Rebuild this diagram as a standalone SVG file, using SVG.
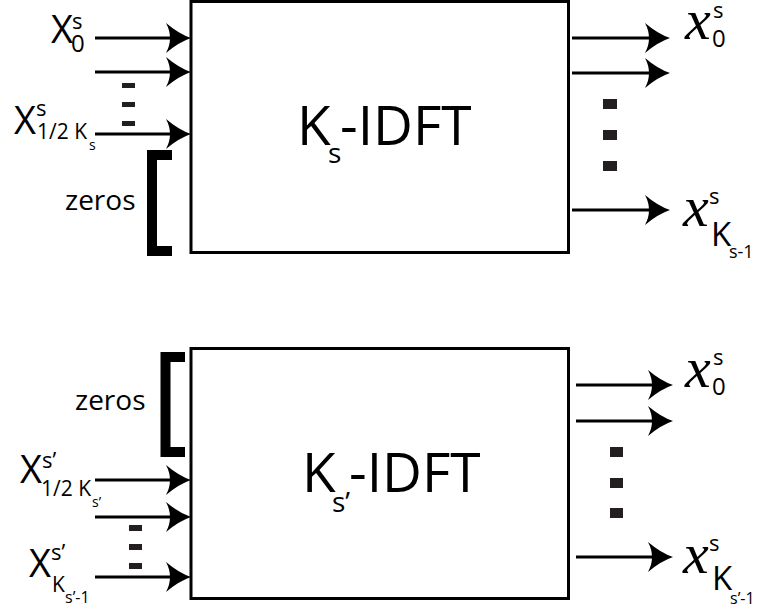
<svg xmlns="http://www.w3.org/2000/svg" xmlns:xlink="http://www.w3.org/1999/xlink" width="760" height="610" viewBox="0 0 760 610">
<style>
text{font-family:"Open Sans","Noto Sans","Liberation Sans",sans-serif;fill:#000}
.box{fill:#fff;stroke:#000;stroke-width:3}
.ln{stroke:#000;stroke-width:3;fill:none}
.br{stroke:#000;stroke-width:10;fill:none;stroke-linejoin:miter}
.dot{fill:#231f20}
.vx{font-family:"Liberation Serif","DejaVu Serif",serif;font-style:italic}
</style>
<defs>
<path id="ah" d="M0,0 Q-12,-4 -25,-15 Q-17,0 -25,15 Q-12,4 0,0 Z" fill="#000"/>
</defs>

<g id="block1">
<rect class="box" x="191" y="1.5" width="377.5" height="251"/>
<text x="297" y="145" font-size="55">K</text>
<text x="328" y="163" font-size="28">s</text>
<text x="340" y="145" font-size="55">-IDFT</text>
</g>

<g id="block2">
<rect class="box" x="191" y="348.5" width="377.5" height="250"/>
<text x="302" y="492" font-size="55">K</text>
<text x="332" y="512" font-size="28">s’</text>
<text x="349" y="492" font-size="55">-IDFT</text>
</g>

<g id="connectors">
<line class="ln" x1="95" y1="38" x2="182" y2="38"/>
<line class="ln" x1="95" y1="72" x2="182" y2="72"/>
<line class="ln" x1="95" y1="134" x2="182" y2="134"/>
<use xlink:href="#ah" x="191" y="38"/>
<use xlink:href="#ah" x="191" y="72"/>
<use xlink:href="#ah" x="191" y="134"/>
<line class="ln" x1="572" y1="38" x2="661" y2="38"/>
<line class="ln" x1="572" y1="73" x2="661" y2="73"/>
<line class="ln" x1="572" y1="210" x2="661" y2="210"/>
<use xlink:href="#ah" x="670" y="38"/>
<use xlink:href="#ah" x="670" y="73"/>
<use xlink:href="#ah" x="670" y="210"/>
<line class="ln" x1="95" y1="480" x2="182" y2="480"/>
<line class="ln" x1="95" y1="517" x2="182" y2="517"/>
<line class="ln" x1="95" y1="577" x2="182" y2="577"/>
<use xlink:href="#ah" x="191" y="480"/>
<use xlink:href="#ah" x="191" y="517"/>
<use xlink:href="#ah" x="191" y="577"/>
<line class="ln" x1="576" y1="385" x2="664" y2="385"/>
<line class="ln" x1="576" y1="421" x2="664" y2="421"/>
<line class="ln" x1="576" y1="557" x2="664" y2="557"/>
<use xlink:href="#ah" x="673" y="385"/>
<use xlink:href="#ah" x="673" y="421"/>
<use xlink:href="#ah" x="673" y="557"/>
</g>

<g id="inputs1">
<text x="51" y="43" font-size="38">X</text>
<text x="72" y="29" font-size="22">s</text>
<text x="71" y="52" font-size="24">0</text>
<text x="14" y="134" font-size="38">X</text>
<text x="36" y="116" font-size="22">s</text>
<text x="37" y="139" font-size="21">1/2 K</text>
<text x="89" y="150" font-size="14">s</text>
<rect class="dot" x="122" y="83" width="13" height="5"/>
<rect class="dot" x="122" y="102" width="13" height="5"/>
<rect class="dot" x="122" y="121" width="13" height="5"/>
<polyline class="br" points="172,155 152,155 152,251 172,251"/>
<text x="65" y="210" font-size="28">zeros</text>
</g>

<g id="outputs1">
<text class="vx" x="685" y="39" font-size="58">x</text>
<text x="713" y="18" font-size="22">s</text>
<text x="712" y="47" font-size="24">0</text>
<rect class="dot" x="603" y="99" width="14" height="10"/>
<rect class="dot" x="603" y="130" width="14" height="10"/>
<rect class="dot" x="603" y="161" width="14" height="10"/>
<text class="vx" x="683" y="226" font-size="58">x</text>
<text x="709" y="204" font-size="22">s</text>
<text x="711" y="246" font-size="33">K</text>
<text x="729" y="258" font-size="18">s-1</text>
</g>

<g id="inputs2">
<polyline class="br" points="185,357 165.5,357 165.5,452 185,452"/>
<text x="75" y="410" font-size="28">zeros</text>
<text x="20" y="483" font-size="38">X</text>
<text x="42" y="468" font-size="22">s’</text>
<text x="41" y="496" font-size="21">1/2 K</text>
<text x="92" y="507" font-size="14">s’</text>
<rect class="dot" x="129" y="525" width="13" height="6"/>
<rect class="dot" x="129" y="544" width="13" height="6"/>
<rect class="dot" x="129" y="563" width="13" height="6"/>
<text x="29" y="577" font-size="38">X</text>
<text x="51" y="560" font-size="22">s’</text>
<text x="52" y="592" font-size="21">K</text>
<text x="65" y="603" font-size="16">s’-1</text>
</g>

<g id="outputs2">
<text class="vx" x="685" y="387" font-size="58">x</text>
<text x="713" y="365" font-size="22">s</text>
<text x="712" y="395" font-size="24">0</text>
<rect class="dot" x="610" y="447" width="13" height="10"/>
<rect class="dot" x="610" y="478" width="13" height="10"/>
<rect class="dot" x="610" y="508" width="13" height="10"/>
<text class="vx" x="683" y="573" font-size="58">x</text>
<text x="709" y="551" font-size="22">s</text>
<text x="712" y="590" font-size="33">K</text>
<text x="730" y="604" font-size="16">s’-1</text>
</g>
</svg>
